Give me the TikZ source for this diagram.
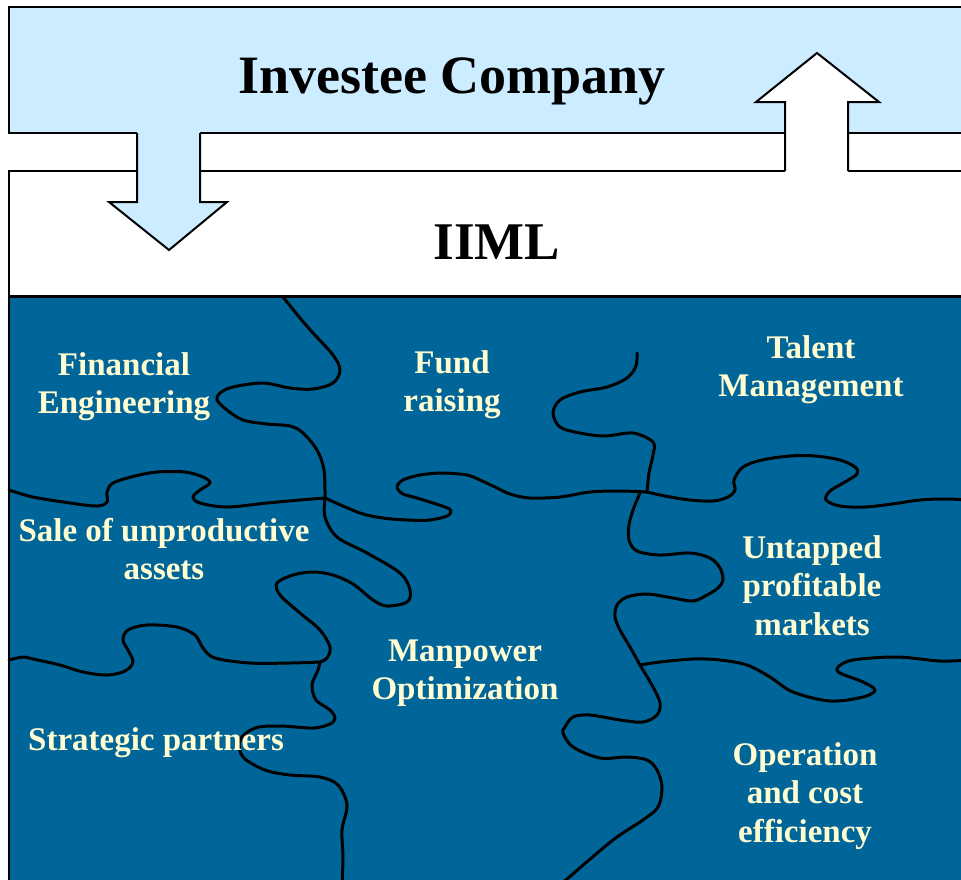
\documentclass[tikz,border=0pt]{standalone}
\usepackage{fontspec}
\setmainfont{Liberation Serif}
\definecolor{bandblue}{HTML}{CCECFF}
\definecolor{seablue}{HTML}{00669A}
\definecolor{cream}{HTML}{FFFCD2}
\tikzset{
  frame/.style={draw=black, line width=2pt},
  puzzle/.style={draw=black, line width=3pt, line join=round, line cap=round},
  % anchored on the baseline of the last line
  piecelabel/.style={text=cream, align=center, anchor=base, inner sep=0pt,
    font=\fontsize{33}{38.5}\selectfont\bfseries},
  titlelabel/.style={text=black, anchor=base, inner sep=0pt},
}
\begin{document}
\begin{tikzpicture}[x=1pt,y=-1pt]
\useasboundingbox (0,0) rectangle (961,879);
\clip (0,0) rectangle (961,879);
\fill[white] (0,0) rectangle (961,879);

% puzzle area
\fill[seablue] (9,296) rectangle (980,890);

% puzzle seams
\coordinate (j1) at (325,498);
\coordinate (j2) at (647,492);
\coordinate (j3) at (640,665);
\coordinate (j4) at (320,662);

\draw[puzzle] plot[smooth, tension=0.55] coordinates {
  (283,297) (300,318) (313,333) (333,355) (340,370) (333,383) (313,389) (290,388)
  (263,383) (233,387) (220,393) (217,400) (227,410) (243,420) (267,424) (290,426)
  (303,433) (317,450) (324,470) (325,498)};

\draw[puzzle] plot[smooth, tension=0.55] coordinates {
  (9,490) (33,497) (70,503) (97,506) (107,502) (107,492) (113,483) (135,476)
  (157,472) (185,472) (203,477) (210,483) (200,490) (193,497) (200,503) (227,507)
  (267,503) (300,500) (325,498)};

\draw[puzzle] plot[smooth, tension=0.55] coordinates {
  (325,498) (360,513) (383,518) (407,520) (430,520) (447,516) (451,511) (445,507)
  (417,498) (403,494) (397,487) (403,480) (420,475) (443,473) (467,475) (480,480)
  (495,487) (510,494) (530,498) (560,497) (590,492) (620,491) (647,492)};

\draw[puzzle] plot[smooth, tension=0.55] coordinates {
  (647,492) (649,473) (653,455) (653,442) (633,433) (605,436) (580,433) (560,427)
  (553,413) (560,400) (580,392) (607,387) (627,378) (636,366) (637,353)};

\draw[puzzle] plot[smooth, tension=0.55] coordinates {
  (647,492) (665,496) (690,500) (713,501) (728,497) (735,490) (734,480) (743,467)
  (762,460) (790,456) (815,456) (840,460) (855,467) (857,474) (845,482) (830,491)
  (826,500) (840,506) (865,507) (892,504) (920,500) (945,499) (970,500)};

\draw[puzzle] plot[smooth, tension=0.55] coordinates {
  (640,493) (633,510) (629,525) (629,540) (637,551) (660,555) (690,553) (710,558)
  (720,568) (723,580) (718,588) (707,595) (693,601) (673,598) (647,594) (627,597)
  (617,605) (615,617) (620,630) (630,647) (640,665)};

\draw[puzzle] plot[smooth, tension=0.55] coordinates {
  (640,665) (660,662) (693,659) (720,660) (747,665) (770,677) (793,692) (830,701)
  (863,697) (875,690) (863,682) (840,673) (838,667) (853,660) (897,657) (940,661)
  (970,660)};

\draw[puzzle] plot[smooth, tension=0.55] coordinates {
  (640,665) (653,687) (660,703) (657,715) (643,722) (620,720) (590,715) (573,717)
  (565,727) (563,733) (573,747) (600,758) (627,757) (647,760) (657,770) (662,787)
  (658,807) (643,820) (613,840) (567,879) (558,887)};

\draw[puzzle] plot[smooth, tension=0.55] coordinates {
  (325,498) (325,517) (337,537) (367,553) (400,573) (410,590) (407,602) (387,606)
  (373,600) (353,584) (333,575) (313,572) (293,575) (277,583) (280,595) (300,613)
  (320,630) (330,647) (327,658) (320,662)};

\draw[puzzle] plot[smooth, tension=0.55] coordinates {
  (9,660) (23,657) (33,659) (60,665) (83,672) (107,675) (125,671) (133,662)
  (128,650) (123,640) (128,630) (147,625) (177,627) (195,635) (203,648) (215,658)
  (250,663) (290,663) (320,662)};

\draw[puzzle] plot[smooth, tension=0.55] coordinates {
  (320,662) (318,670) (312,685) (316,700) (330,710) (335,718) (330,724) (313,728)
  (280,726) (255,728) (240,740) (243,757) (265,770) (290,775) (320,777) (338,785)
  (347,805) (342,830) (343,857) (342,887)};

% puzzle area border
\draw[frame] (9,890) -- (9,296);

% IIML box
\fill[white] (9,171) rectangle (980,296);
\draw[frame] (980,171) -- (9,171) -- (9,296);
\draw[black, line width=3pt] (9,296) -- (980,296);

% Investee Company band
\fill[bandblue] (9,7) rectangle (980,133);
\draw[frame] (980,7) -- (9,7) -- (9,133) -- (980,133);

% downward arrow
\fill[bandblue] (137,131) -- (137,202) -- (109,202) -- (169,250) -- (227,202) -- (200,202) -- (200,131) -- cycle;
\draw[frame, line join=miter] (137,133) -- (137,202) -- (109,202) -- (169,250) -- (227,202) -- (200,202) -- (200,133);

% upward arrow
\fill[white] (785,174) -- (785,102) -- (756,102) -- (817,53) -- (879,102) -- (848,102) -- (848,174) -- cycle;
\draw[frame, line join=miter] (785,171) -- (785,102) -- (756,102) -- (817,53) -- (879,102) -- (848,102) -- (848,171);

\node[titlelabel, font=\fontsize{54}{60}\selectfont\bfseries] (investee) at (452,93) {Investee Company};
\node[titlelabel, font=\fontsize{53}{60}\selectfont\bfseries] (iiml) at (497,259) {IIML};

% piece labels
\node[piecelabel] (fineng) at (124,413.5) {Financial\\Engineering};
\node[piecelabel] (fund) at (452,411.5) {Fund\\raising};
\node[piecelabel] (talent) at (811,396.5) {Talent\\Management};
\node[piecelabel] (sale) at (164,579.5) {Sale of unproductive\\assets};
\node[piecelabel] (untapped) at (812,635) {Untapped\\profitable\\markets};
\node[piecelabel] (manpower) at (465,699.5) {Manpower\\Optimization};
\node[piecelabel] (strategic) at (156,750) {Strategic partners};
\node[piecelabel] (operation) at (805,842) {Operation\\and cost\\efficiency};
\end{tikzpicture}
\end{document}
